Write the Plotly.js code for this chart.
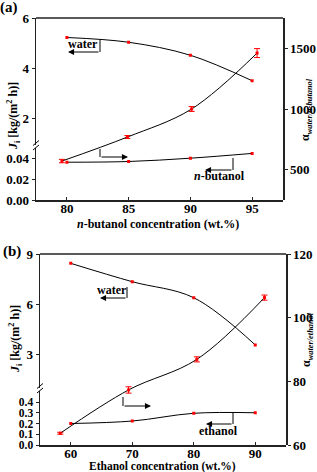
<!DOCTYPE html>
<html>
<head>
<meta charset="utf-8">
<script src="https://cdn.plot.ly/plotly-3.0.1.min.js"></script>
<style>html,body{margin:0;padding:0;background:#fff;}#chart{width:317px;height:472px;}</style>
</head>
<body>
<div id="chart"></div>
<script>
// ---- Data panel (a) ----
var concA = [80, 85, 90, 95];
var waterFluxA = [5.22, 5.03, 4.51, 3.49];
var butanolFluxA = [0.0364, 0.0371, 0.0403, 0.0449];
var alphaConcA = [79.6, 84.9, 90.1, 95.4];
var alphaA = [571, 769, 1000, 1461];
var alphaErrA = [14, 12, 20, 37];
// ---- Data panel (b) ----
var concB = [60, 70, 80, 90];
var waterFluxB = [8.44, 7.34, 6.38, 3.55];
var ethanolFluxB = [0.20, 0.223, 0.295, 0.30];
var alphaConcB = [58.3, 69.4, 80.5, 91.5];
var alphaB = [63.7, 77.3, 86.9, 106.3];
var alphaErrB = [0.3, 1.0, 0.8, 0.8];
// ---- Tick labels ----
var xTicksA = [80, 85, 90, 95];
var xTicksB = [60, 70, 80, 90];
var yLowTicksA = [0, 0.02, 0.04], yLowLabelsA = ['0.00', '0.02', '0.04'];
var yUpTicksA = [2, 4, 6];
var yRightTicksA = [500, 1000, 1500];
var yLowTicksB = [0, 0.1, 0.2, 0.3, 0.4], yLowLabelsB = ['0.0', '0.1', '0.2', '0.3', '0.4'];
var yUpTicksB = [3, 6, 9];
var yRightTicksB = [60, 80, 100, 120];

var FONT = '"Liberation Serif", "Times New Roman", serif';
var L = 36, R = 31, T = 18, B = 27, W = 317, H = 472;
var PW = W - L - R, PH = H - T - B;
function px(x){ return (x - L) / PW; }
function py(y){ return (H - B - y) / PH; }

var lineStyle = {color: '#000', width: 1, shape: 'spline', smoothing: 1};
var mk = {color: '#ff0000', size: 3, symbol: 'square'};
function errBar(arr){ return {type: 'data', array: arr, visible: true, color: '#ff0000', thickness: 1, width: 3}; }

var traces = [
  {x: concA, y: waterFluxA, xaxis: 'x', yaxis: 'y2', mode: 'lines+markers', line: lineStyle, marker: mk, name: 'water'},
  {x: concA, y: butanolFluxA, xaxis: 'x', yaxis: 'y', mode: 'lines+markers', line: lineStyle, marker: mk, name: 'n-butanol'},
  {x: alphaConcA, y: alphaA, xaxis: 'x', yaxis: 'y3', mode: 'lines+markers', line: lineStyle, marker: mk, error_y: errBar(alphaErrA), name: 'alpha'},
  {x: concB, y: waterFluxB, xaxis: 'x2', yaxis: 'y5', mode: 'lines+markers', line: lineStyle, marker: mk, name: 'water'},
  {x: concB, y: ethanolFluxB, xaxis: 'x2', yaxis: 'y4', mode: 'lines+markers', line: lineStyle, marker: mk, name: 'ethanol'},
  {x: alphaConcB, y: alphaB, xaxis: 'x2', yaxis: 'y6', mode: 'lines+markers', line: lineStyle, marker: mk, error_y: errBar(alphaErrB), name: 'alpha'}
];

var tf = {family: FONT, size: 13, color: '#000', weight: 'bold'};
var tfSmall = {family: FONT, size: 11.5, color: '#000', weight: 'bold'};
var AX = '#222';
function bold(arr){ return arr.map(function(v){ return '<b>' + v + '</b>'; }); }
function yax(o){
  return Object.assign({showgrid: false, zeroline: false, showline: true, linecolor: AX, linewidth: 1.5,
    ticks: 'outside', ticklen: 3, tickwidth: 1, tickcolor: AX, tickfont: tf, fixedrange: true}, o);
}
function xax(o){
  return Object.assign({showgrid: false, zeroline: false, showline: true, linecolor: AX, linewidth: 1.5,
    ticks: 'inside', ticklen: 3, tickwidth: 1, tickcolor: AX, tickfont: tf, fixedrange: true, ticklabelstandoff: -4}, o);
}

var layout = {
  width: W, height: H, showlegend: false,
  margin: {l: L, r: R, t: T, b: B, pad: 0},
  paper_bgcolor: '#fff', plot_bgcolor: 'rgba(0,0,0,0)',
  font: {family: FONT, color: '#000'},
  xaxis: xax({domain: [0, px(283)], range: [77.5, 97.5], tickvals: xTicksA, ticktext: bold(xTicksA), anchor: 'y'}),
  yaxis: yax({domain: [py(200), py(147.5)], range: [0, 0.0506], tickvals: yLowTicksA, ticktext: bold(yLowLabelsA), anchor: 'x'}),
  yaxis2: yax({domain: [py(144.5), 1], range: [0.94, 6], tickvals: yUpTicksA, ticktext: bold(yUpTicksA), anchor: 'x'}),
  yaxis3: yax({domain: [py(200), 1], range: [250, 1750], tickvals: yRightTicksA, ticktext: bold(yRightTicksA), side: 'right', anchor: 'x'}),
  xaxis2: xax({domain: [px(40), 1], range: [55, 95], tickvals: xTicksB, ticktext: bold(xTicksB), anchor: 'y4'}),
  yaxis4: yax({domain: [0, py(390.5)], range: [0, 0.507], tickvals: yLowTicksB, ticktext: bold(yLowLabelsB), anchor: 'x2', tickfont: tfSmall}),
  yaxis5: yax({domain: [py(387.5), py(254)], range: [1.0, 9], tickvals: yUpTicksB, ticktext: bold(yUpTicksB), anchor: 'x2'}),
  yaxis6: yax({domain: [0, py(254)], range: [60, 120], tickvals: yRightTicksB, ticktext: bold(yRightTicksB), side: 'right', anchor: 'x2'}),
  shapes: [],
  annotations: []
};

function seg(x0, y0, x1, y1, w){
  layout.shapes.push({type: 'line', xref: 'paper', yref: 'paper', x0: px(x0), y0: py(y0), x1: px(x1), y1: py(y1),
    line: {color: '#000', width: w || 1}});
}
function arrow(xTail, xHead, y){
  layout.annotations.push({xref: 'paper', yref: 'paper', x: px(xHead), y: py(y), ax: xTail - xHead, ay: 0,
    text: '', showarrow: true, arrowhead: 2, arrowsize: 1.1, arrowwidth: 1.1, arrowcolor: '#000'});
}
function txt(x, y, s, size, o){
  layout.annotations.push(Object.assign({xref: 'paper', yref: 'paper', x: px(x), y: py(y), text: '<b>' + s + '</b>', showarrow: false,
    xanchor: 'center', yanchor: 'middle', font: {family: FONT, size: size, color: '#000', weight: 'bold'}}, o || {}));
}

// frame tops
layout.shapes.push({type: 'line', xref: 'paper', yref: 'paper', x0: px(36), x1: px(283), y0: 1, y1: 1, line: {color: AX, width: 1.5}});
layout.shapes.push({type: 'line', xref: 'paper', yref: 'paper', x0: px(40), x1: 1, y0: py(254), y1: py(254), line: {color: AX, width: 1.5}});

// axis break marks
function brk(x, y){
  seg(x - 3, y - 0.5, x + 3, y - 5.5, 1);
  seg(x - 3, y + 4, x + 3, y - 1, 1);
}
brk(36, 146);
brk(40, 389);

// panel (a) annotations
txt(83, 44, 'water', 12);
seg(100, 40, 100, 52);
arrow(100, 68, 52);
seg(100, 149, 100, 157);
arrow(100, 128, 157);
seg(233, 158, 233, 170);
arrow(233, 205, 170);
txt(219, 176, '<i>n</i>-butanol', 12);

// panel (b) annotations
txt(112, 290, 'water', 12);
seg(127, 287, 127, 298);
arrow(127, 100, 298);
seg(123, 397, 123, 406);
arrow(123, 151, 406);
seg(233, 413, 233, 424);
arrow(233, 206, 424);
txt(218, 431, 'ethanol', 12);

// panel labels
txt(9, 8, '(a)', 15);
txt(12, 252, '(b)', 15);

// axis titles
txt(13, 116, '<i>J</i><sub>i</sub> [kg/(m<sup>2</sup> h)]', 12, {textangle: -90});
txt(306, 110, 'α<sub><i>water/n-butanol</i></sub>', 12, {textangle: -90});
txt(158, 224, '<i>n</i>-butanol concentration (wt.%)', 12);
txt(15, 339, '<i>J</i><sub>i</sub> [kg/(m<sup>2</sup> h)]', 12, {textangle: -90});
txt(307, 340, 'α<sub><i>water/ethanol</i></sub>', 12, {textangle: -90});
txt(162, 466, 'Ethanol concentration (wt.%)', 11.5);

Plotly.newPlot('chart', traces, layout, {displayModeBar: false, staticPlot: true});
</script>
</body>
</html>
